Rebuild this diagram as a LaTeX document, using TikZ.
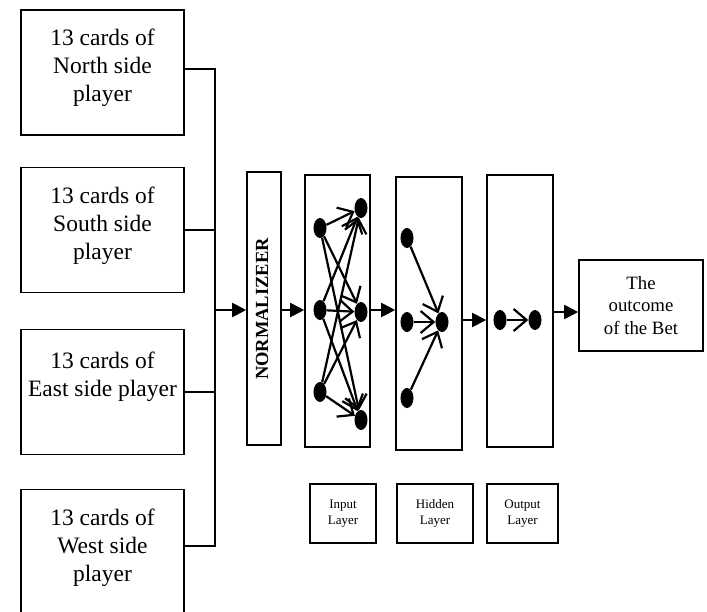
\documentclass[tikz,border=0pt]{standalone}
\usepackage{fontspec}
\setmainfont{Liberation Serif}
\usetikzlibrary{arrows.meta,shapes.geometric}

\begin{document}
\begin{tikzpicture}[x=1pt,y=-1pt,
  box/.style={draw, line width=1.6pt, inner sep=0pt, align=center},
  card/.style={box, minimum width=163pt, minimum height=125pt,
    font=\fontsize{23.5}{28}\selectfont},
  layerbox/.style={draw, line width=1.6pt, inner sep=0pt},
  tag/.style={box, minimum height=59pt, font=\fontsize{13}{16}\selectfont},
  neuron/.style={ellipse, fill=black, minimum width=13pt, minimum height=20pt, inner sep=0pt},
  wire/.style={line width=1.6pt},
  flow/.style={line width=2pt, -{Triangle[length=14pt,width=14pt]}},
  syn/.style={line width=2.2pt, -{Straight Barb[length=13pt,width=22pt,line width=2.2pt]}}
]
\useasboundingbox (0,0) rectangle (707,611);
\clip (0,0) rectangle (707,611);

% the four hands
\node[card] (north) at (102.5,72.5) {13 cards of\\North side\\player\\[-14pt]};
\node[card] (south) at (102.5,230) {13 cards of\\South side\\player\\[-14pt]};
\node[card] (east)  at (102.5,392) {13 cards of\\East side player\\ \strut};
\node[card] (west)  at (102.5,552) {13 cards of\\West side\\player\\[-14pt]};

% collecting bus
\coordinate (bustop) at (215,69);
\coordinate (busbot) at (215,546);
\coordinate (busout) at (215,310);
\draw[wire] (north.east |- bustop) -- (bustop) -- (busbot) -- (west.east |- busbot);
\draw[wire] (south.east) -- (south.east -| bustop);
\draw[wire] (east.east) -- (east.east -| bustop);

% normalizer
\node[layerbox, minimum width=34pt, minimum height=273pt] (norm) at (264,308.5) {};
\node[rotate=90, font=\bfseries\fontsize{18.5}{20}\selectfont] (normtxt) at (262,309) {NORMALIZEER};
\draw[flow] (busout) -- (busout -| norm.west);

% layer frames
\node[layerbox, minimum width=65pt, minimum height=272pt] (inbox)  at (337.5,311) {};
\node[layerbox, minimum width=66pt, minimum height=273pt] (hidbox) at (429,313.5) {};
\node[layerbox, minimum width=66pt, minimum height=272pt] (outbox) at (520,311) {};

% input layer neurons
\node[neuron] (l1) at (320,228) {};
\node[neuron] (l2) at (320,310) {};
\node[neuron] (l3) at (320,392) {};
\node[neuron] (r1) at (361,208) {};
\node[neuron] (r2) at (361,312) {};
\node[neuron] (r3) at (361,420) {};
\foreach \a in {1,2,3} \foreach \b in {1,2,3} \draw[syn] (l\a) -- (r\b);

% hidden layer neurons
\node[neuron] (h1) at (407,238) {};
\node[neuron] (h2) at (407,322) {};
\node[neuron] (h3) at (407,398) {};
\node[neuron] (hc) at (442,322) {};
\foreach \a in {1,2,3} \draw[syn] (h\a) -- (hc);

% output layer neurons
\node[neuron] (o1) at (500,320) {};
\node[neuron] (o2) at (535,320) {};
\draw[syn] (o1) -- (o2);

% result
\node[box, minimum width=124pt, minimum height=91pt, font=\fontsize{18.8}{22.5}\selectfont]
  (res) at (641,305.5) {The\\outcome\\of the Bet};

% flow between stages
\draw[flow] (norm.east |- l2) -- (inbox.west |- l2);
\draw[flow] (inbox.east |- l2) -- (hidbox.west |- l2);
\draw[flow] (hidbox.east |- o1) -- (outbox.west |- o1);
\draw[flow] (outbox.east |- r2) -- (res.west |- r2);

% layer captions
\node[tag, minimum width=66pt] (tin)  at (343,513.5) {Input\\Layer};
\node[tag, minimum width=76pt] (thid) at (435,513.5) {Hidden\\Layer};
\node[tag, minimum width=71pt] (tout) at (522.5,513.5) {Output\\Layer};
\end{tikzpicture}
\end{document}
